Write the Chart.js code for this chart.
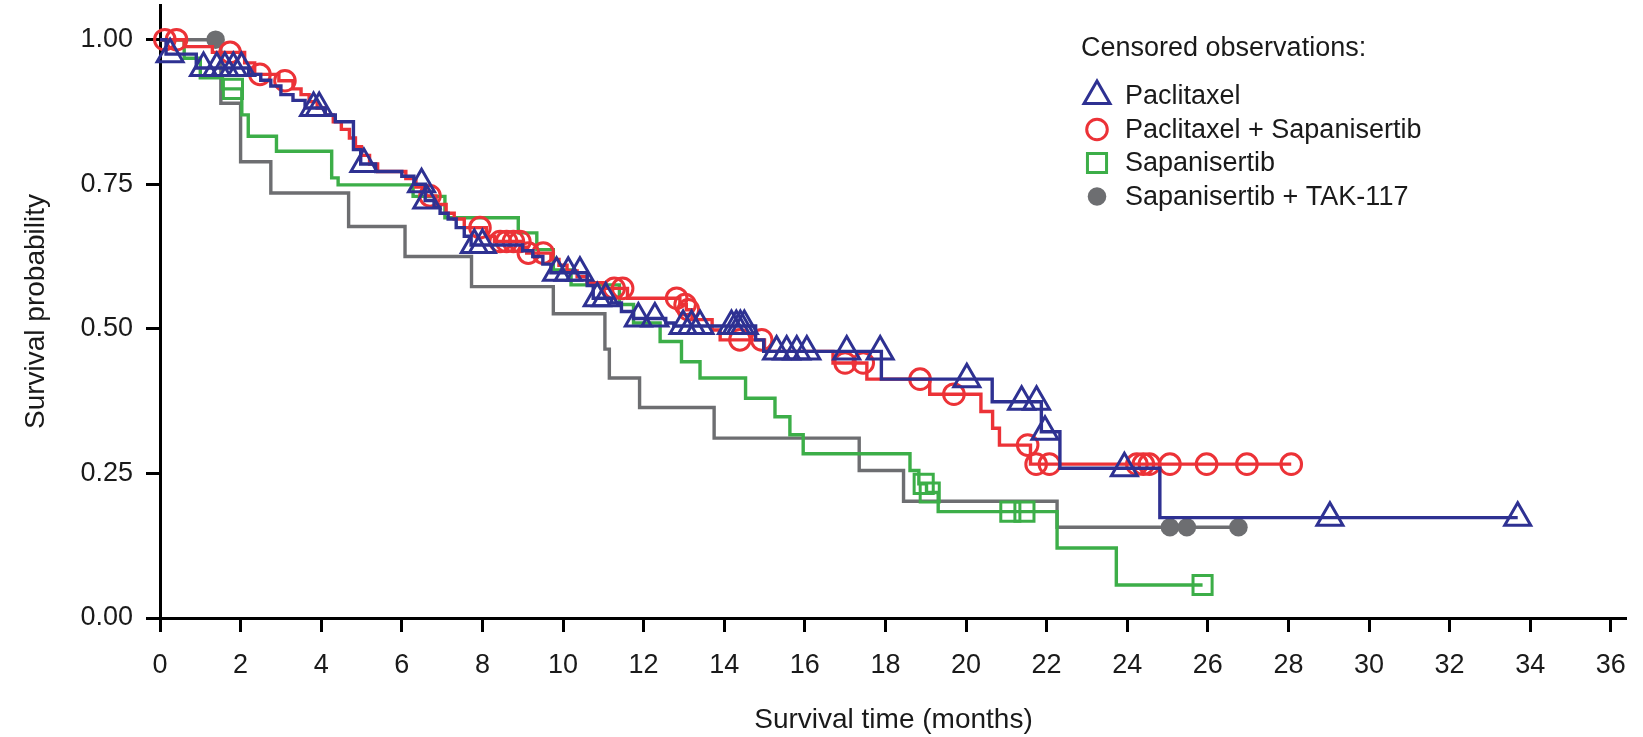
<!DOCTYPE html>
<html>
<head>
<meta charset="utf-8">
<title>Survival probability</title>
<script src="https://cdn.jsdelivr.net/npm/chart.js@4.4.1/dist/chart.umd.min.js"></script>
<style>
  html, body { margin: 0; padding: 0; background: #fff; }
  #wrap { width: 1643px; height: 737px; position: relative; }
</style>
</head>
<body>
<div id="wrap"><canvas id="kmChart"></canvas></div>
<script>
'use strict';

// axis ticks
var xTicks = [0, 2, 4, 6, 8, 10, 12, 14, 16, 18, 20, 22, 24, 26, 28, 30, 32, 34, 36];
var yTicks = [0, 0.25, 0.5, 0.75, 1];

// series names (legend order)
var seriesNames = ['Paclitaxel', 'Paclitaxel + Sapanisertib', 'Sapanisertib', 'Sapanisertib + TAK-117'];

// Paclitaxel: event times (months) and survival after each event
var pacTime = [0, 0.15, 0.9, 2.2, 2.5, 2.75, 3.0, 3.3, 3.6, 4.1, 4.35, 4.8, 4.98, 5.35, 6.0, 6.3, 6.58, 6.8, 6.95, 7.15, 7.35, 7.55, 7.72,
  9.0, 9.25, 9.5, 9.7, 10.6, 10.75, 11.2, 11.45, 11.75, 12.55, 12.75, 14.78, 14.98, 17.9, 20.65, 21.87, 22.33, 24.81];
var pacSurv = [1.0, 0.975, 0.951, 0.94, 0.93, 0.92, 0.905, 0.895, 0.882, 0.87, 0.858, 0.81, 0.785, 0.772, 0.764, 0.75, 0.722, 0.71, 0.70, 0.69, 0.675, 0.66, 0.645,
  0.635, 0.625, 0.612, 0.597, 0.575, 0.553, 0.545, 0.53, 0.518, 0.51, 0.505, 0.481, 0.461, 0.413, 0.374, 0.322, 0.259, 0.1735];
var pacCensor = [0.25, 1.08, 1.41, 1.61, 1.82, 2.02, 3.81, 3.95, 5.06, 6.49, 6.62, 7.8, 8.0, 9.84, 10.13, 10.42, 10.85, 11.06,
  11.87, 12.28, 12.98, 13.19, 13.4, 14.18, 14.3, 14.4, 14.5, 15.3, 15.55, 15.8, 16.05, 17.04, 17.87, 20.02, 21.38, 21.75, 21.96,
  23.93, 29.03, 33.69];

// Paclitaxel + Sapanisertib
var pacSapTime = [0, 0.6, 1.3, 2.1, 2.35, 2.95, 3.3, 3.5, 3.7, 3.9, 4.1, 4.3, 4.5, 4.7, 4.85, 5.0, 5.2, 5.4, 6.1, 6.35, 6.6, 6.85,
  7.1, 7.3, 7.55, 8.1, 8.3, 9.0, 9.1, 9.7, 9.9, 10.1, 10.35, 10.6, 11.0, 11.6, 12.9, 13.06, 13.2, 13.7, 13.9, 15.0, 16.7, 17.54,
  19.1, 20.37, 20.66, 20.83, 21.6];
var pacSapSurv = [1.0, 0.988, 0.978, 0.96, 0.94, 0.929, 0.915, 0.905, 0.893, 0.882, 0.87, 0.858, 0.845, 0.83, 0.815, 0.80, 0.785, 0.772,
  0.76, 0.745, 0.73, 0.715, 0.70, 0.69, 0.675, 0.66, 0.651, 0.641, 0.631, 0.62, 0.61, 0.60, 0.59, 0.58, 0.57, 0.553, 0.542, 0.533,
  0.516, 0.498, 0.481, 0.461, 0.441, 0.413, 0.387, 0.357, 0.328, 0.299, 0.266];
var pacSapCensor = [0.12, 0.41, 1.74, 2.48, 3.1, 6.7, 7.94, 8.44, 8.6, 8.77, 8.93, 9.14, 9.51, 11.27, 11.48, 12.82, 13.03, 13.11,
  14.39, 14.93, 17.0, 17.45, 18.86, 19.7, 21.53, 21.74, 22.07, 24.24, 24.4, 24.55, 25.06, 25.97, 26.97, 28.07];

// Sapanisertib
var sapTime = [0, 0.6, 1.0, 1.55, 2.03, 2.19, 2.89, 4.26, 4.42, 6.28, 7.07, 8.89, 9.35, 9.76, 10.2, 11.4, 11.75, 12.41, 12.94,
  13.4, 14.53, 15.26, 15.63, 15.96, 18.61, 18.83, 19.02, 19.31, 22.26, 23.73];
var sapSurv = [1.0, 0.968, 0.934, 0.915, 0.87, 0.833, 0.807, 0.761, 0.749, 0.729, 0.692, 0.666, 0.637, 0.602, 0.576, 0.542, 0.51,
  0.478, 0.443, 0.415, 0.38, 0.348, 0.317, 0.284, 0.255, 0.232, 0.217, 0.184, 0.121, 0.057];
var sapCensor = [1.81, 18.95, 19.1, 21.1, 21.45, 25.87];

// Sapanisertib + TAK-117
var takTime = [0, 1.51, 2.0, 2.75, 4.68, 6.08, 7.73, 9.76, 11.04, 11.15, 11.9, 13.75, 17.35, 18.45, 22.26];
var takSurv = [1.0, 0.89, 0.789, 0.735, 0.677, 0.625, 0.573, 0.526, 0.465, 0.415, 0.364, 0.311, 0.255, 0.202, 0.157];
var takCensor = [1.38, 25.06, 25.48, 26.76];

var colors = ['#2e3192', '#ec3237', '#3cae48', '#6d6e71'];
var markers = ['triangle', 'circle', 'rect', 'circle'];
var markerRadius = [15, 10.3, 13.5, 9.3];
var textColor = '#1a1a1a';
var fontFamily = '"Liberation Sans", Arial, Helvetica, sans-serif';

Chart.defaults.font.family = fontFamily;
Chart.defaults.color = textColor;

// survival value of a step curve at time t
function survAt(times, surv, t) {
  var s = surv[0];
  for (var i = 0; i < times.length; i++) {
    if (times[i] <= t) s = surv[i];
  }
  return s;
}

function curvePoints(times, surv, censor) {
  var pts = times.map(function(t, i) { return {x: t, y: surv[i]}; });
  var lastC = Math.max.apply(null, censor);
  if (lastC > times[times.length - 1]) pts.push({x: lastC, y: surv[surv.length - 1]});
  return pts;
}

function censorPoints(times, surv, censor) {
  return censor.map(function(t) { return {x: t, y: survAt(times, surv, t)}; });
}

var groups = [
  [pacTime, pacSurv, pacCensor],
  [pacSapTime, pacSapSurv, pacSapCensor],
  [sapTime, sapSurv, sapCensor],
  [takTime, takSurv, takCensor]
];

var datasets = [];
groups.forEach(function(g, i) {
  var filled = i === 3;
  datasets.push({
    label: seriesNames[i] + ' censored',
    data: censorPoints(g[0], g[1], g[2]),
    showLine: false,
    clip: false,
    pointStyle: markers[i],
    pointRadius: markerRadius[i],
    pointBorderWidth: filled ? 0 : 3,
    pointBorderColor: colors[i],
    pointBackgroundColor: filled ? colors[i] : 'rgba(0,0,0,0)'
  });
  datasets.push({
    label: seriesNames[i],
    data: curvePoints(g[0], g[1], g[2]),
    stepped: 'before',
    borderColor: colors[i],
    borderWidth: 3.4,
    pointRadius: 0,
    fill: false
  });
});

// legend with the censoring symbols, drawn inside the plot
var censorLegend = {
  id: 'censorLegend',
  afterDraw: function(chart) {
    var ctx = chart.ctx;
    ctx.save();
    ctx.font = '27px ' + fontFamily;
    ctx.textAlign = 'left';
    ctx.textBaseline = 'middle';
    ctx.fillStyle = textColor;
    ctx.fillText('Censored observations:', 1081, 49);
    seriesNames.forEach(function(name, i) {
      var y = 96 + i * 33.5;
      var filled = i === 3;
      ctx.lineWidth = 3;
      ctx.strokeStyle = colors[i];
      ctx.fillStyle = filled ? colors[i] : 'rgba(0,0,0,0)';
      Chart.helpers.drawPoint(ctx, {
        pointStyle: markers[i],
        radius: markerRadius[i],
        rotation: 0,
        borderWidth: filled ? 0 : 3
      }, 1097, y);
      ctx.fillStyle = textColor;
      ctx.fillText(name, 1125, y + 1);
    });
    ctx.restore();
  }
};

var ctx = document.getElementById('kmChart').getContext('2d');
var chart = new Chart(ctx, {
  type: 'line',
  data: { datasets: datasets },
  plugins: [censorLegend],
  options: {
    responsive: true,
    maintainAspectRatio: false,
    animation: false,
    layout: { autoPadding: false, padding: { top: 5, right: 16, left: 0, bottom: 0 } },
    plugins: {
      legend: { display: false },
      tooltip: { enabled: false }
    },
    scales: {
      x: {
        type: 'linear',
        min: 0,
        max: 36.4,
        afterBuildTicks: function(axis) {
          axis.ticks = xTicks.map(function(v) { return {value: v}; });
        },
        afterFit: function(axis) { axis.height = 119; },
        grid: { display: true, drawOnChartArea: false, drawTicks: true, tickLength: 14, tickWidth: 3, tickColor: '#000' },
        border: { display: true, color: '#000', width: 3 },
        ticks: { color: textColor, font: { size: 27 }, padding: 17, maxRotation: 0, autoSkip: false },
        title: { display: true, text: 'Survival time (months)', color: textColor, font: { size: 28 }, padding: { top: 0, bottom: 0 } }
      },
      y: {
        type: 'linear',
        min: 0,
        max: 1.06,
        afterBuildTicks: function(axis) {
          axis.ticks = yTicks.map(function(v) { return {value: v}; });
        },
        afterFit: function(axis) {
          axis.width = 160;
          axis.paddingTop = 0;
          axis.paddingBottom = 0;
        },
        grid: { display: true, drawOnChartArea: false, drawTicks: true, tickLength: 14, tickWidth: 3, tickColor: '#000' },
        border: { display: true, color: '#000', width: 3 },
        ticks: {
          color: textColor, font: { size: 27 }, padding: 13,
          callback: function(v) { return Number(v).toFixed(2); }
        },
        title: { display: true, text: 'Survival probability', color: textColor, font: { size: 28 }, padding: { top: 19, bottom: 0 } }
      }
    }
  }
});
</script>
</body>
</html>
